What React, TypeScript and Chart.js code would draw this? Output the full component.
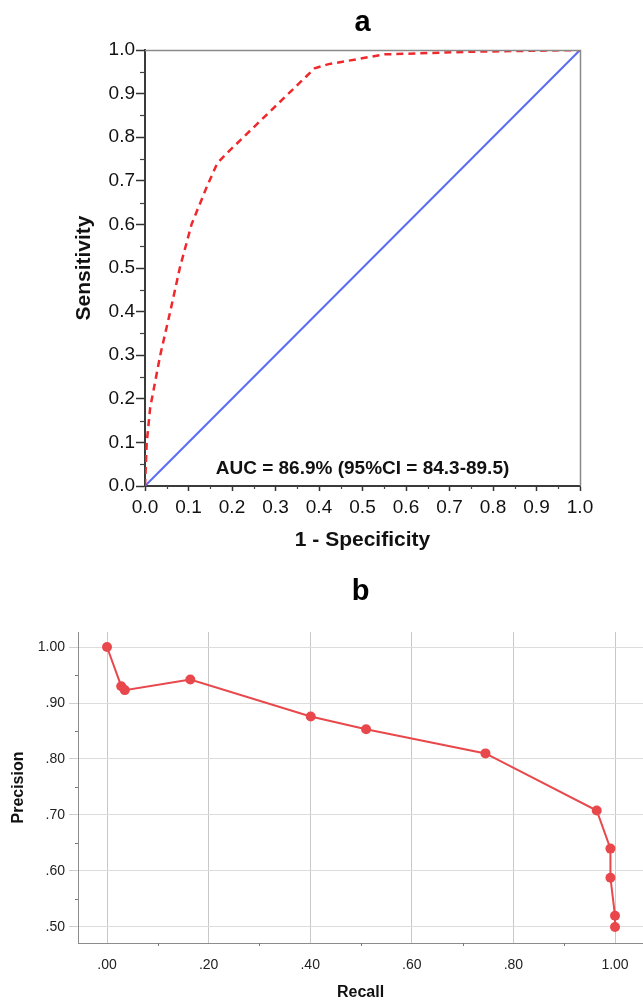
import React, { useEffect, useRef } from 'react';
import { Chart, registerables } from 'chart.js';

Chart.register(...registerables);

const FONT = "'Liberation Sans', Arial, Helvetica, sans-serif";

// ---------- Panel a: ROC ----------
const rocTitle = 'a';
const rocXTitle = '1 - Specificity';
const rocYTitle = 'Sensitivity';
const aucLabel = 'AUC = 86.9% (95%CI = 84.3-89.5)';
const rocFpr = [0, 0.004, 0.012, 0.035, 0.058, 0.08, 0.107, 0.142, 0.166, 0.19, 0.39, 0.42, 0.55, 0.75, 1.0];
const rocTpr = [0, 0.1, 0.18, 0.3, 0.4, 0.5, 0.6, 0.686, 0.74, 0.765, 0.958, 0.967, 0.99, 0.996, 1.0];
const refLine = [0, 1];
const rocTicks = [0, 0.1, 0.2, 0.3, 0.4, 0.5, 0.6, 0.7, 0.8, 0.9, 1.0];
const rocMinorTicks = [0.05, 0.15, 0.25, 0.35, 0.45, 0.55, 0.65, 0.75, 0.85, 0.95];

// ---------- Panel b: Precision-Recall ----------
const prTitle = 'b';
const prXTitle = 'Recall';
const prYTitle = 'Precision';
const recall = [0, 0.028, 0.035, 0.164, 0.401, 0.51, 0.745, 0.964, 0.991, 0.991, 1.0, 1.0];
const precision = [1.0, 0.93, 0.923, 0.942, 0.876, 0.853, 0.81, 0.708, 0.64, 0.588, 0.52, 0.5];
const prXTicks = [0, 0.2, 0.4, 0.6, 0.8, 1.0];
const prXMinorTicks = [0.1, 0.3, 0.5, 0.7, 0.9];
const prYTicks = [0.5, 0.6, 0.7, 0.8, 0.9, 1.0];
const prYMinorTicks = [0.55, 0.65, 0.75, 0.85, 0.95];

type MinorSpec = { values: number[]; length: number; color: string; width: number };

function makeMinorTicks(spec: { x?: MinorSpec; y?: MinorSpec }) {
  return {
    id: 'minorTicks',
    afterDraw(chart: any) {
      const ctx = chart.ctx;
      const area = chart.chartArea;
      (['x', 'y'] as const).forEach((axis) => {
        const o = spec[axis];
        if (!o) return;
        const sc = chart.scales[axis];
        ctx.save();
        ctx.strokeStyle = o.color;
        ctx.lineWidth = o.width;
        o.values.forEach((v) => {
          const p = Math.round(sc.getPixelForValue(v)) + 0.5;
          ctx.beginPath();
          if (axis === 'x') {
            ctx.moveTo(p, area.bottom);
            ctx.lineTo(p, area.bottom + o.length);
          } else {
            ctx.moveTo(area.left, p);
            ctx.lineTo(area.left - o.length, p);
          }
          ctx.stroke();
        });
        ctx.restore();
      });
    },
  };
}

const framePlugin = {
  id: 'frame',
  afterDatasetsDraw(chart: any) {
    const { ctx, chartArea: a } = chart;
    ctx.save();
    ctx.strokeStyle = '#8a8a8a';
    ctx.lineWidth = 1.5;
    ctx.beginPath();
    ctx.moveTo(a.left, a.top + 0.5);
    ctx.lineTo(a.right + 0.5, a.top + 0.5);
    ctx.lineTo(a.right + 0.5, a.bottom);
    ctx.stroke();
    ctx.restore();
  },
};

const aucPlugin = {
  id: 'aucText',
  afterDatasetsDraw(chart: any) {
    const { ctx, chartArea: a } = chart;
    ctx.save();
    ctx.font = `bold 19px ${FONT}`;
    ctx.fillStyle = '#111';
    ctx.textAlign = 'center';
    ctx.textBaseline = 'middle';
    ctx.fillText(aucLabel, (a.left + a.right) / 2, a.bottom - 17);
    ctx.restore();
  },
};

function RocChart() {
  const ref = useRef<HTMLCanvasElement>(null);
  useEffect(() => {
    if (!ref.current) return;
    const chart = new Chart(ref.current, {
      type: 'scatter',
      data: {
        datasets: [
          {
            data: refLine.map((v) => ({ x: v, y: v })),
            showLine: true,
            borderColor: '#5a6cf2',
            borderWidth: 2,
            pointRadius: 0,
            order: 2,
          },
          {
            data: rocFpr.map((x, i) => ({ x, y: rocTpr[i] })),
            showLine: true,
            borderColor: '#f0282c',
            borderWidth: 2.5,
            borderDash: [7, 5],
            pointRadius: 0,
            order: 1,
          },
        ],
      },
      options: {
        responsive: false,
        animation: false,
        layout: { autoPadding: false, padding: { left: 0, right: 63, top: 0, bottom: 0 } },
        plugins: {
          legend: { display: false },
          tooltip: { enabled: false },
          title: {
            display: true,
            text: rocTitle,
            fullSize: false,
            color: '#000',
            font: { family: FONT, size: 29, weight: 'bold' },
            padding: { top: 5.5, bottom: 9.7 },
          },
        },
        scales: {
          x: {
            type: 'linear',
            min: 0,
            max: 1,
            afterBuildTicks: (s: any) => {
              s.ticks = rocTicks.map((v) => ({ value: v }));
            },
            afterFit: (s: any) => {
              s.height = 79;
              s.paddingLeft = 0;
              s.paddingRight = 0;
            },
            ticks: {
              callback: (v: any) => Number(v).toFixed(1),
              font: { family: FONT, size: 19 },
              color: '#111',
              padding: 5.6,
              maxRotation: 0,
              autoSkip: false,
            },
            grid: { drawOnChartArea: false, tickLength: 5, tickColor: '#333', tickWidth: 1.5 },
            border: { color: '#3a3a3a', width: 2 },
            title: {
              display: true,
              text: rocXTitle,
              color: '#111',
              font: { family: FONT, size: 21, weight: 'bold' },
              padding: { top: 0, bottom: 12 },
            },
          },
          y: {
            type: 'linear',
            min: 0,
            max: 1,
            afterBuildTicks: (s: any) => {
              s.ticks = rocTicks.map((v) => ({ value: v }));
            },
            afterFit: (s: any) => {
              s.width = 145;
              s.paddingTop = 0;
              s.paddingBottom = 0;
            },
            ticks: {
              callback: (v: any) => Number(v).toFixed(1),
              font: { family: FONT, size: 19 },
              color: '#111',
              padding: 1,
              autoSkip: false,
            },
            grid: { drawOnChartArea: false, tickLength: 9, tickColor: '#333', tickWidth: 1.5 },
            border: { color: '#3a3a3a', width: 2 },
            title: {
              display: true,
              text: rocYTitle,
              color: '#111',
              font: { family: FONT, size: 21, weight: 'bold' },
              padding: { top: 71.4, bottom: 0 },
            },
          },
        },
      },
      plugins: [
        framePlugin,
        aucPlugin,
        makeMinorTicks({
          x: { values: rocMinorTicks, length: 3, color: '#444', width: 1.2 },
          y: { values: rocMinorTicks, length: 5, color: '#444', width: 1.2 },
        }),
      ],
    } as any);
    return () => chart.destroy();
  }, []);
  return <canvas ref={ref} width={643} height={565} style={{ width: 643, height: 565, display: 'block' }} />;
}

const fmtPr = (v: any) => {
  const n = Number(v);
  const s = n.toFixed(2);
  return n < 1 ? s.replace(/^0/, '') : s;
};

function PrChart() {
  const ref = useRef<HTMLCanvasElement>(null);
  useEffect(() => {
    if (!ref.current) return;
    const RED = '#e8484b';
    const chart = new Chart(ref.current, {
      type: 'scatter',
      data: {
        datasets: [
          {
            data: recall.map((x, i) => ({ x, y: precision[i] })),
            showLine: true,
            borderColor: RED,
            backgroundColor: RED,
            pointBackgroundColor: RED,
            pointBorderWidth: 0,
            borderWidth: 2,
            pointRadius: 5,
          },
        ],
      },
      options: {
        responsive: false,
        animation: false,
        layout: { autoPadding: false, padding: 0 },
        plugins: {
          legend: { display: false },
          tooltip: { enabled: false },
          title: {
            display: true,
            text: prTitle,
            fullSize: false,
            color: '#000',
            font: { family: FONT, size: 29, weight: 'bold' },
            padding: { top: 9.2, bottom: 23 },
          },
        },
        scales: {
          x: {
            type: 'linear',
            min: -0.0571,
            max: 1.0551,
            afterBuildTicks: (s: any) => {
              s.ticks = prXTicks.map((v) => ({ value: v }));
            },
            afterFit: (s: any) => {
              s.height = 57;
              s.paddingLeft = 0;
              s.paddingRight = 0;
            },
            ticks: {
              callback: fmtPr,
              font: { family: FONT, size: 14 },
              color: '#222',
              padding: 13.6,
              maxRotation: 0,
              autoSkip: false,
            },
            grid: { color: '#c9c9c9', lineWidth: 1, drawTicks: false },
            border: { color: '#8c8c8c', width: 1 },
            title: {
              display: true,
              text: prXTitle,
              color: '#111',
              font: { family: FONT, size: 16, weight: 'bold' },
              padding: { top: 0, bottom: -2 },
            },
          },
          y: {
            type: 'linear',
            min: 0.4714,
            max: 1.0268,
            afterBuildTicks: (s: any) => {
              s.ticks = prYTicks.map((v) => ({ value: v }));
            },
            afterFit: (s: any) => {
              s.width = 78;
              s.paddingTop = 0;
              s.paddingBottom = 0;
            },
            ticks: {
              callback: fmtPr,
              font: { family: FONT, size: 14 },
              color: '#222',
              padding: 4,
              autoSkip: false,
            },
            grid: { color: '#dcdcdc', lineWidth: 1, tickLength: 9, tickColor: '#cfcfcf' },
            border: { color: '#8c8c8c', width: 1 },
            title: {
              display: true,
              text: prYTitle,
              color: '#111',
              font: { family: FONT, size: 16, weight: 'bold' },
              padding: { top: 9, bottom: 0 },
            },
          },
        },
      },
      plugins: [
        makeMinorTicks({
          x: { values: prXMinorTicks, length: 3, color: '#777', width: 1 },
          y: { values: prYMinorTicks, length: 3, color: '#777', width: 1 },
        }),
      ],
    } as any);
    return () => chart.destroy();
  }, []);
  return <canvas ref={ref} width={643} height={435} style={{ width: 643, height: 435, display: 'block' }} />;
}

export default function App() {
  return (
    <div
      style={{
        position: 'absolute',
        left: 0,
        top: 0,
        width: 643,
        height: 1000,
        overflow: 'hidden',
        background: '#fff',
      }}
    >
      <div style={{ position: 'absolute', left: 0, top: 0, width: 643, height: 565 }}>
        <RocChart />
      </div>
      <div style={{ position: 'absolute', left: 0, top: 565, width: 643, height: 435 }}>
        <PrChart />
      </div>
    </div>
  );
}
